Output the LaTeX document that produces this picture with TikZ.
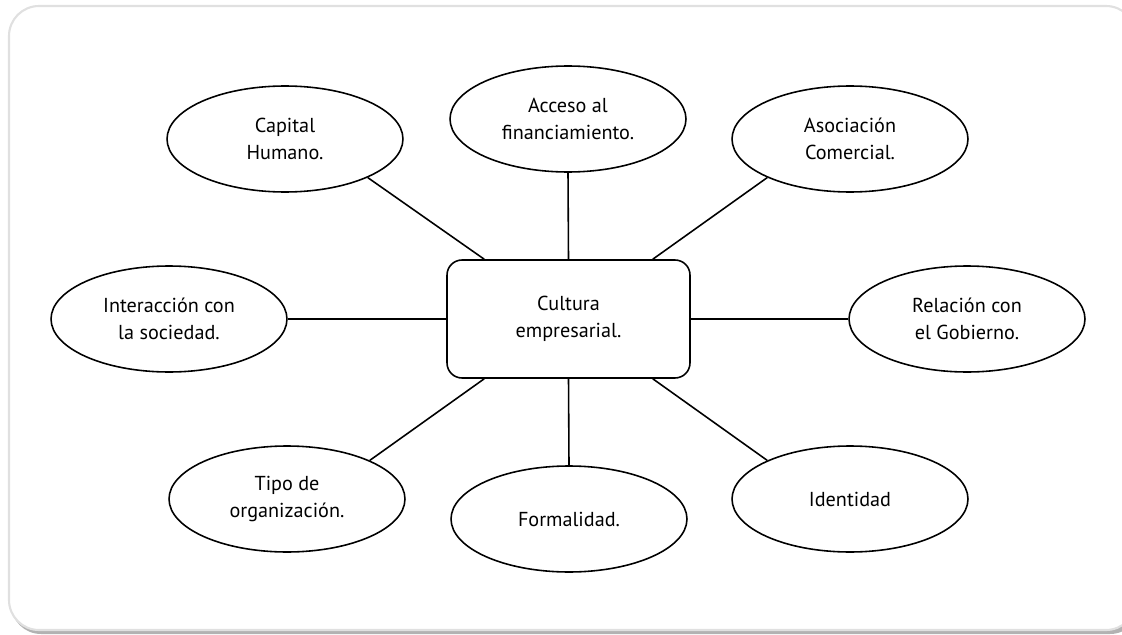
\documentclass[tikz,border=0pt]{standalone}
\usepackage{fontspec}
\setmainfont{PT Sans}
\usetikzlibrary{positioning}
\usetikzlibrary{shapes.geometric}

\tikzset{
	tema/.style = {draw = black, line width = 0.9pt, ellipse, inner sep = 0pt,
		minimum width = 4.72cm, minimum height = 2.12cm, align = center,
		font = \fontsize{11.5}{15.5}\selectfont},
	centro/.style = {draw = black, line width = 0.9pt, rectangle, rounded corners = 0.3cm,
		inner sep = 0pt, minimum width = 4.86cm, minimum height = 2.36cm, align = center,
		font = \fontsize{11.5}{15.5}\selectfont},
	enlace/.style = {draw = black, line width = 0.9pt}
}

\begin{document}
\begin{tikzpicture}[x = 0.02cm, y = -0.02cm]
	\useasboundingbox (0, 0) rectangle (1122, 635);
	% marco
	\fill[black!30, rounded corners = 0.6cm] (11, 9) rectangle (1140, 634);
	\draw[black!12, fill = white, line width = 1.2pt, rounded corners = 0.6cm] (9, 6) rectangle (1136, 630);

	\node[centro] (cultura) at (568.5, 319) {Cultura\\empresarial.};

	\node[tema] (capital) at (285, 139) {Capital\\Humano.};
	\node[tema] (acceso) at (568, 119) {Acceso al\\financiamiento.};
	\node[tema] (asociacion) at (850, 139) {Asociación\\Comercial.};
	\node[tema] (interaccion) at (169, 319) {Interacción con\\la sociedad.};
	\node[tema] (relacion) at (967, 319) {Relación con\\el Gobierno.};
	\node[tema] (tipo) at (287, 499) {Tipo de\\organización.};
	\node[tema] (formalidad) at (569, 519) {Formalidad.};
	\node[tema] (identidad) at (850, 499) {Identidad};

	\draw[enlace] (capital.-25)--([xshift = 0.76cm]cultura.north west);
	\draw[enlace] (acceso.south)--(cultura.north);
	\draw[enlace] (asociacion.205)--([xshift = -0.76cm]cultura.north east);
	\draw[enlace] (interaccion.east)--(cultura.west);
	\draw[enlace] (cultura.east)--(relacion.west);
	\draw[enlace] (tipo.25)--([xshift = 0.76cm]cultura.south west);
	\draw[enlace] (cultura.south)--(formalidad.north);
	\draw[enlace] (identidad.155)--([xshift = -0.76cm]cultura.south east);
\end{tikzpicture}
\end{document}
